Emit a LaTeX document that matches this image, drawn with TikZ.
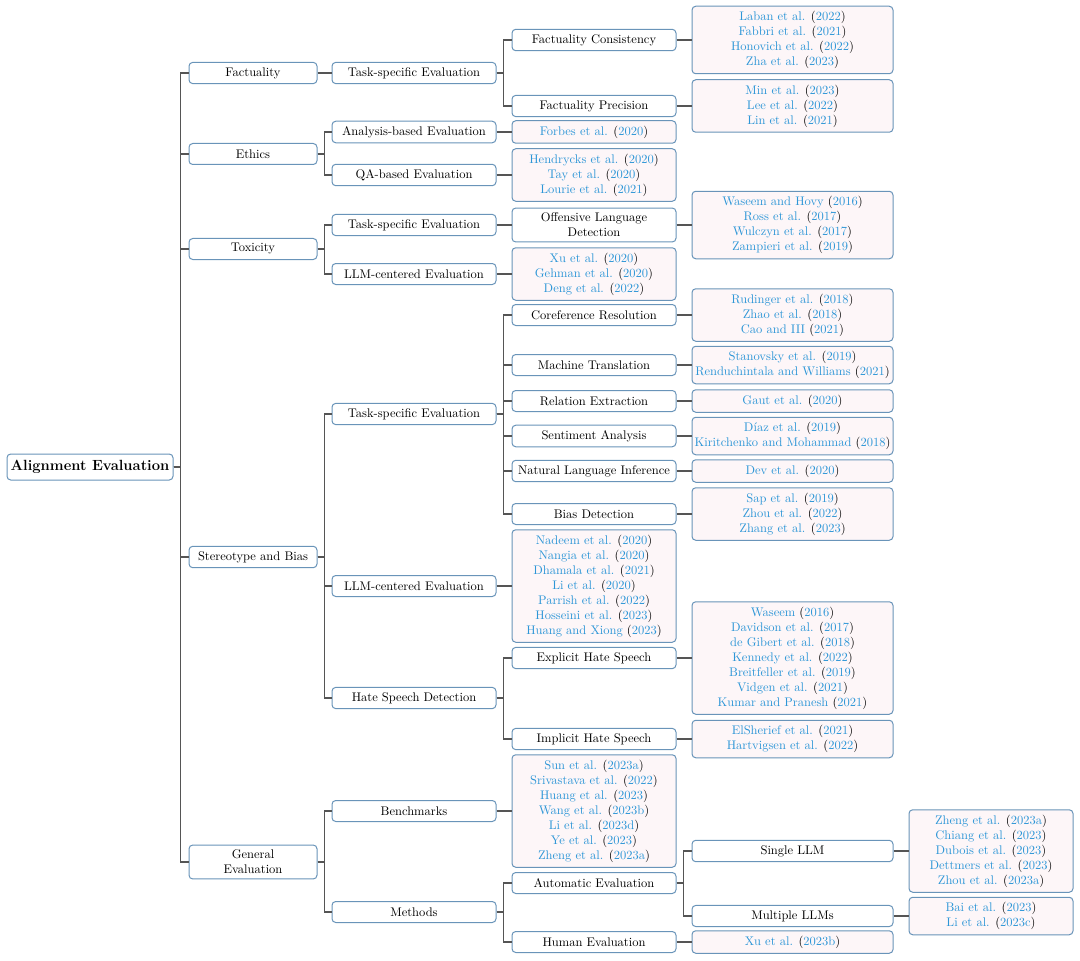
\documentclass[tikz,border=0pt]{standalone}
\usepackage{xcolor}
\definecolor{alborder}{RGB}{105,148,185}
\definecolor{alcite}{RGB}{45,150,215}
\definecolor{alleaf}{RGB}{253,246,248}
\definecolor{alline}{RGB}{85,85,85}
\usepackage{tikz}
\newcommand{\ct}[2]{\textcolor{alcite}{#1} (\textcolor{alcite}{#2})}
\tikzset{
  basebox/.style={draw=alborder, line width=0.8pt, rounded corners=3pt, align=center,
                  inner xsep=2pt, inner ysep=4pt, minimum height=16.8pt},
  rootbox/.style={basebox, fill=white, minimum width=132.8pt, minimum height=20.8pt,
                  font=\fontsize{11.8}{14}\selectfont\bfseries},
  lvlone/.style={basebox, fill=white, minimum width=102.4pt},
  lvlmid/.style={basebox, fill=white, minimum width=131.2pt},
  lvlwide/.style={basebox, fill=white, minimum width=160.8pt},
  leafmid/.style={basebox, fill=alleaf, minimum width=131.2pt},
  leafwide/.style={basebox, fill=alleaf, minimum width=160.8pt},
  conn/.style={draw=alline, line width=1.1pt}
}
\begin{document}
\begin{tikzpicture}[x=0.8pt, y=-0.8pt]
  \useasboundingbox (0,0) rectangle (1080,961);

  % Root
  \node[rootbox] (root) at (90,467) {Alignment Evaluation};

  % Level 1
  \node[lvlone] (fac) at (253,73)  {Factuality};
  \node[lvlone] (eth) at (253,154) {Ethics};
  \node[lvlone] (tox) at (253,249) {Toxicity};
  \node[lvlone] (ste) at (253,557) {Stereotype and Bias};
  \node[lvlone] (gen) at (253,862) {General\\Evaluation};

  % Level 2
  \node[lvlmid] (factask)  at (414,73)  {Task-specific Evaluation};
  \node[lvlmid] (ethana)   at (414,132) {Analysis-based Evaluation};
  \node[lvlmid] (ethqa)    at (414,175) {QA-based Evaluation};
  \node[lvlmid] (toxtask)  at (414,225) {Task-specific Evaluation};
  \node[lvlmid] (toxllm)   at (414,274) {LLM-centered Evaluation};
  \node[lvlmid] (stetask)  at (414,414) {Task-specific Evaluation};
  \node[lvlmid] (stellm)   at (414,586) {LLM-centered Evaluation};
  \node[lvlmid] (stehate)  at (414,698) {Hate Speech Detection};
  \node[lvlmid] (genbench) at (414,811) {Benchmarks};
  \node[lvlmid] (genmeth)  at (414,912) {Methods};

  % Level 3
  \node[lvlmid] (faccons) at (594,40)  {Factuality Consistency};
  \node[lvlmid] (facprec) at (594,106) {Factuality Precision};
  \node[leafmid] (ethanalf) at (594,132) {\ct{Forbes et al.}{2020}};
  \node[leafmid] (ethqalf) at (594,175)
       {\ct{Hendrycks et al.}{2020}\\\ct{Tay et al.}{2020}\\\ct{Lourie et al.}{2021}};
  \node[lvlmid] (toxoff) at (594,225) {Offensive Language\\Detection};
  \node[leafmid] (toxllmlf) at (594,274)
       {\ct{Xu et al.}{2020}\\\ct{Gehman et al.}{2020}\\\ct{Deng et al.}{2022}};
  \node[lvlmid] (coref) at (594,315) {Coreference Resolution};
  \node[lvlmid] (mt)    at (594,365) {Machine Translation};
  \node[lvlmid] (re)    at (594,401) {Relation Extraction};
  \node[lvlmid] (sa)    at (594,436) {Sentiment Analysis};
  \node[lvlmid] (nli)   at (594,471) {Natural Language Inference};
  \node[lvlmid] (bias)  at (594,514) {Bias Detection};
  \node[leafmid] (stellmlf) at (594,586)
       {\ct{Nadeem et al.}{2020}\\\ct{Nangia et al.}{2020}\\\ct{Dhamala et al.}{2021}\\
        \ct{Li et al.}{2020}\\\ct{Parrish et al.}{2022}\\\ct{Hosseini et al.}{2023}\\
        \ct{Huang and Xiong}{2023}};
  \node[lvlmid] (explicit) at (594,658) {Explicit Hate Speech};
  \node[lvlmid] (implicit) at (594,739) {Implicit Hate Speech};
  \node[leafmid] (benchlf) at (594,811)
       {\ct{Sun et al.}{2023a}\\\ct{Srivastava et al.}{2022}\\\ct{Huang et al.}{2023}\\
        \ct{Wang et al.}{2023b}\\\ct{Li et al.}{2023d}\\\ct{Ye et al.}{2023}\\
        \ct{Zheng et al.}{2023a}};
  \node[lvlmid] (autoeval) at (594,883) {Automatic Evaluation};
  \node[lvlmid] (humeval)  at (594,942) {Human Evaluation};

  % Level 4
  \node[leafwide] (consleaf) at (792.5,40)
       {\ct{Laban et al.}{2022}\\\ct{Fabbri et al.}{2021}\\\ct{Honovich et al.}{2022}\\
        \ct{Zha et al.}{2023}};
  \node[leafwide] (precleaf) at (792.5,106)
       {\ct{Min et al.}{2023}\\\ct{Lee et al.}{2022}\\\ct{Lin et al.}{2021}};
  \node[leafwide] (offleaf) at (792.5,225)
       {\ct{Waseem and Hovy}{2016}\\\ct{Ross et al.}{2017}\\\ct{Wulczyn et al.}{2017}\\
        \ct{Zampieri et al.}{2019}};
  \node[leafwide] (corefleaf) at (792.5,315)
       {\ct{Rudinger et al.}{2018}\\\ct{Zhao et al.}{2018}\\\ct{Cao and III}{2021}};
  \node[leafwide] (mtleaf) at (792.5,365)
       {\ct{Stanovsky et al.}{2019}\\\ct{Renduchintala and Williams}{2021}};
  \node[leafwide] (releaf) at (792.5,401) {\ct{Gaut et al.}{2020}};
  \node[leafwide] (saleaf) at (792.5,436)
       {\ct{Díaz et al.}{2019}\\\ct{Kiritchenko and Mohammad}{2018}};
  \node[leafwide] (nlileaf) at (792.5,471) {\ct{Dev et al.}{2020}};
  \node[leafwide] (biasleaf) at (792.5,514)
       {\ct{Sap et al.}{2019}\\\ct{Zhou et al.}{2022}\\\ct{Zhang et al.}{2023}};
  \node[leafwide] (explleaf) at (792.5,658)
       {\ct{Waseem}{2016}\\\ct{Davidson et al.}{2017}\\\ct{de Gibert et al.}{2018}\\
        \ct{Kennedy et al.}{2022}\\\ct{Breitfeller et al.}{2019}\\\ct{Vidgen et al.}{2021}\\
        \ct{Kumar and Pranesh}{2021}};
  \node[leafwide] (implleaf) at (792.5,739)
       {\ct{ElSherief et al.}{2021}\\\ct{Hartvigsen et al.}{2022}};
  \node[lvlwide] (single) at (792.5,851) {Single LLM};
  \node[lvlwide] (multi)  at (792.5,916) {Multiple LLMs};
  \node[leafwide] (humleaf) at (792.5,942) {\ct{Xu et al.}{2023b}};

  % Level 5
  \node[leafmid] (singleleaf) at (991,851)
       {\ct{Zheng et al.}{2023a}\\\ct{Chiang et al.}{2023}\\\ct{Dubois et al.}{2023}\\
        \ct{Dettmers et al.}{2023}\\\ct{Zhou et al.}{2023a}};
  \node[leafmid] (multileaf) at (991,916)
       {\ct{Bai et al.}{2023}\\\ct{Li et al.}{2023c}};

  % Edges
  \foreach \p/\c in {root/fac, root/eth, root/tox, root/ste, root/gen,
                     fac/factask, factask/faccons, factask/facprec,
                     faccons/consleaf, facprec/precleaf,
                     eth/ethana, eth/ethqa, ethana/ethanalf, ethqa/ethqalf,
                     tox/toxtask, tox/toxllm, toxtask/toxoff, toxoff/offleaf, toxllm/toxllmlf,
                     ste/stetask, ste/stellm, ste/stehate,
                     stetask/coref, stetask/mt, stetask/re, stetask/sa, stetask/nli, stetask/bias,
                     coref/corefleaf, mt/mtleaf, re/releaf, sa/saleaf, nli/nlileaf, bias/biasleaf,
                     stellm/stellmlf, stehate/explicit, stehate/implicit,
                     explicit/explleaf, implicit/implleaf,
                     gen/genbench, gen/genmeth, genbench/benchlf,
                     genmeth/autoeval, genmeth/humeval, autoeval/single, autoeval/multi,
                     humeval/humleaf, single/singleleaf, multi/multileaf}
    \draw[conn] (\p.east) -- +(7,0) |- (\c.west);
\end{tikzpicture}
\end{document}
